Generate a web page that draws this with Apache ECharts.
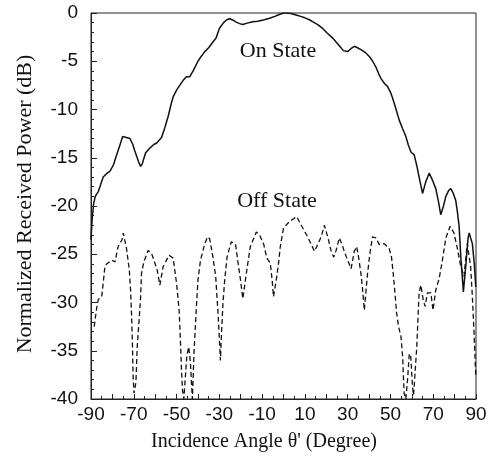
<!DOCTYPE html>
<html>
<head>
<meta charset="utf-8">
<script src="https://cdn.jsdelivr.net/npm/echarts@6/dist/echarts.min.js"></script>
<style>
html,body{margin:0;padding:0;background:#fff;}
#chart{width:492px;height:464px;}
</style>
</head>
<body>
<div id="chart"></div>
<script>
const onAngle = [-90, -89.5, -88.8, -88, -86.6, -85.5, -84.3, -82.5, -81.2, -79.6, -78, -76.5, -75.2, -73.5, -71.8, -70.5, -69.5, -67.8, -66.8, -66, -64.5, -62.5, -60.5, -59.4, -57, -55.5, -53.9, -52.5, -51.6, -50, -48.5, -47, -45.4, -43.8, -42, -40, -38.5, -36.8, -35, -33, -31.5, -30, -28, -26.5, -25.2, -23.5, -22.1, -20.5, -19, -17, -14.3, -12, -9, -6.5, -4, -2, 0, 1.3, 3.5, 5.9, 8, 10, 12.1, 14, 16, 18.3, 20.5, 23, 25, 26.5, 28, 30, 31.5, 33.1, 34.6, 36.2, 38.3, 40.1, 41.7, 43.2, 44.5, 45.6, 47.2, 48.6, 50, 51, 52.5, 54.1, 55.7, 57.2, 58.4, 59.6, 61.1, 62.3, 63.4, 65, 66.5, 68.1, 69.6, 71.2, 72.5, 73.5, 74.8, 75.9, 77.2, 78.2, 79.4, 80.5, 81.3, 82.1, 82.9, 84.1, 85.3, 86.3, 86.8, 87.5, 88.3, 89.2, 89.9];
const onPower = [-23.5, -21.5, -19.8, -19.0, -18.5, -17.8, -17.0, -16.6, -16.4, -15.8, -14.7, -13.7, -12.8, -12.9, -13.0, -13.6, -14.3, -15.4, -15.9, -15.6, -14.5, -14.0, -13.6, -13.5, -12.9, -11.9, -10.7, -9.4, -8.7, -8.0, -7.5, -7.0, -6.6, -6.6, -5.9, -5.0, -4.5, -4.0, -3.6, -3.0, -2.6, -1.6, -1.0, -0.7, -0.6, -0.75, -0.95, -1.1, -1.2, -1.05, -0.9, -0.85, -0.7, -0.55, -0.35, -0.15, 0, 0, -0.05, -0.2, -0.35, -0.5, -0.7, -0.95, -1.2, -1.6, -2.1, -2.6, -3.1, -3.5, -3.9, -4.0, -3.7, -3.45, -3.6, -3.8, -4.1, -4.5, -5.0, -5.6, -6.3, -6.8, -7.3, -7.6, -8.2, -8.8, -9.9, -11.1, -12.0, -12.8, -13.7, -14.4, -14.7, -15.8, -17.0, -18.7, -17.5, -16.6, -17.3, -18.2, -19.6, -20.9, -20.0, -19.0, -18.4, -18.2, -18.7, -19.4, -20.6, -22.1, -25.3, -28.9, -26.0, -23.3, -22.8, -23.0, -23.9, -26.0, -28.4];

const offAngle = [-88.5, -88.1, -87.3, -86.6, -85.0, -84.3, -83.5, -82.7, -81.9, -80.3, -78.8, -77.3, -76.5, -75.5, -74.9, -73.4, -72.1, -71.5, -71.0, -70.6, -70.3, -69.9, -69.0, -68.4, -67.5, -66.8, -66.4, -65.3, -63.3, -61.7, -60.6, -59.1, -57.8, -56.3, -53.5, -51.6, -50.0, -48.8, -48.2, -47.7, -47.2, -46.6, -45.2, -44.3, -43.5, -42.6, -41.8, -40.7, -40.0, -38.8, -36.8, -35.5, -34.5, -33.0, -31.7, -31.1, -30.6, -30.2, -29.5, -28.9, -28.3, -27.5, -26.4, -24.4, -22.4, -21.3, -20.2, -19.0, -17.7, -16.6, -15.5, -12.7, -11.2, -9.2, -7.8, -6.2, -5.3, -4.7, -3.4, -2.3, -1.5, 0.0, 2.8, 6.2, 8.3, 11.3, 14.5, 16.0, 17.6, 19.1, 20.7, 22.2, 23.5, 24.6, 26.1, 27.7, 28.4, 30.0, 31.6, 33.1, 34.2, 35.1, 36.2, 37.0, 37.8, 38.6, 39.3, 40.4, 41.6, 43.2, 44.8, 47.1, 49.4, 50.5, 51.3, 52.1, 52.9, 53.8, 54.9, 55.7, 56.2, 56.4, 57.2, 58.0, 58.8, 59.5, 60.3, 60.8, 61.6, 62.3, 62.9, 63.4, 64.2, 65.3, 66.2, 67.3, 68.9, 69.9, 71.2, 72.8, 74.3, 75.9, 77.9, 79.7, 81.3, 82.9, 84.4, 85.9, 87.5, 88.3, 89.1, 89.9];
const offPower = [-32.5, -31.8, -30.5, -29.7, -29.4, -28.0, -26.3, -26.0, -26.1, -25.6, -25.8, -24.2, -24.0, -23.5, -22.8, -24.4, -26.6, -28.7, -31.5, -34.6, -37.7, -39.4, -38.3, -34.6, -31.8, -29.4, -27.0, -25.8, -24.6, -24.9, -25.6, -26.6, -28.2, -26.3, -25.1, -25.4, -28.0, -30.8, -33.9, -37.0, -39.1, -40.0, -35.5, -34.6, -36.3, -40.0, -35.0, -30.4, -27.7, -25.6, -23.9, -23.2, -23.4, -25.3, -27.3, -29.4, -31.1, -32.8, -36.0, -32.8, -30.1, -27.7, -25.3, -23.7, -24.0, -25.8, -27.5, -29.6, -27.5, -25.8, -24.2, -22.7, -23.0, -24.0, -25.4, -25.9, -27.7, -29.4, -27.7, -25.9, -24.2, -22.3, -21.6, -21.1, -22.0, -23.2, -24.7, -24.0, -23.2, -22.0, -23.2, -24.6, -25.3, -24.6, -23.3, -24.2, -24.7, -25.6, -26.5, -24.7, -24.2, -25.3, -27.0, -28.7, -30.8, -28.7, -27.0, -24.9, -23.2, -23.3, -24.0, -23.9, -24.4, -25.3, -27.0, -29.0, -31.1, -32.5, -33.5, -35.6, -38.4, -39.4, -40.0, -38.0, -35.3, -35.6, -38.7, -39.6, -37.0, -34.6, -31.5, -29.0, -28.2, -29.7, -30.4, -29.0, -29.0, -30.8, -28.7, -27.5, -25.6, -23.3, -22.1, -22.8, -24.4, -26.3, -27.3, -23.9, -26.3, -29.4, -33.2, -37.7];

const xTicks = [-90, -70, -50, -30, -10, 10, 30, 50, 70, 90];
const yTicks = [0, -5, -10, -15, -20, -25, -30, -35, -40];
const xTitle = "Incidence Angle θ' (Degree)";
const yTitle = "Normalized Received Power (dB)";
const onLabel = "On State";
const offLabel = "Off State";

const chart = echarts.init(document.getElementById('chart'), null, {renderer: 'canvas'});
const onData = onAngle.map((a, i) => [a, onPower[i]]);
const offData = offAngle.map((a, i) => [a, offPower[i]]);
const sans = "'Liberation Sans', Arial, sans-serif";
const serif = "'Liberation Serif', 'Times New Roman', serif";

chart.setOption({
  backgroundColor: '#ffffff',
  animation: false,
  grid: {left: 91, right: 16, top: 13, bottom: 65, show: true, borderColor: '#222', borderWidth: 1, backgroundColor: 'transparent'},
  xAxis: {
    type: 'value', min: -90, max: 90, interval: 10,
    axisLine: {show: true, onZero: false, lineStyle: {color: '#222', width: 1}},
    axisTick: {show: true, inside: true, length: 5, lineStyle: {color: '#222'}},
    minorTick: {show: true, splitNumber: 2, length: 3, lineStyle: {color: '#222'}},
    splitLine: {show: false},
    axisLabel: {
      color: '#111', fontFamily: sans, fontSize: 19, margin: 6,
      formatter: v => (xTicks.indexOf(v) >= 0 ? String(v) : '')
    }
  },
  yAxis: {
    type: 'value', min: -40, max: 0, interval: 5,
    axisLine: {show: true, onZero: false, lineStyle: {color: '#222', width: 1}},
    axisTick: {show: true, inside: true, length: 6, lineStyle: {color: '#222'}},
    minorTick: {show: true, splitNumber: 5, length: 3, lineStyle: {color: '#222'}},
    splitLine: {show: false},
    axisLabel: {
      color: '#111', fontFamily: sans, fontSize: 19, margin: 13,
      formatter: v => (yTicks.indexOf(v) >= 0 ? String(v) : '')
    }
  },
  series: [
    {
      name: onLabel, type: 'line', data: onData, showSymbol: false, symbol: 'none',
      lineStyle: {color: '#111', width: 1.5}, clip: true, z: 3
    },
    {
      name: offLabel, type: 'line', data: offData, showSymbol: false, symbol: 'none',
      lineStyle: {color: '#111', width: 1.3, type: [5, 3]}, clip: true, z: 2
    }
  ],
  graphic: [
    {type: 'text', x: 278, y: 51, style: {text: onLabel, font: '22px ' + serif, fill: '#111', align: 'center', verticalAlign: 'middle'}},
    {type: 'text', x: 277, y: 201, style: {text: offLabel, font: '22px ' + serif, fill: '#111', align: 'center', verticalAlign: 'middle'}},
    {type: 'text', x: 264, y: 442, style: {text: xTitle, font: '20px ' + serif, fill: '#111', align: 'center', verticalAlign: 'middle'}},
    {type: 'text', x: 25, y: 204, rotation: Math.PI / 2, style: {text: yTitle, font: '22px ' + serif, fill: '#111', align: 'center', verticalAlign: 'middle'}}
  ]
});
</script>
</body>
</html>
